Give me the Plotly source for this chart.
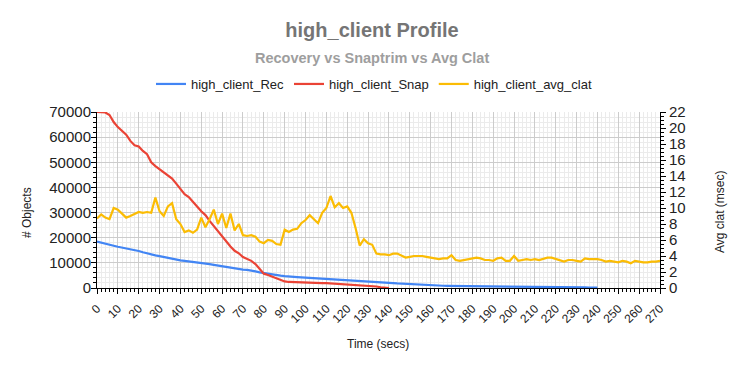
import plotly.graph_objects as go

# ---------------- data ----------------
time_step2 = list(range(0, 271, 2))

rec_values = [
    18500, 18000, 17700, 17300, 16800, 16400, 16100, 15700, 15400, 15000,
    14700, 14200, 13700, 13300, 13000, 12700, 12300, 11900, 11600, 11300,
    11000, 10800, 10600, 10400, 10200, 10100, 9800, 9500, 9200, 8900,
    8600, 8300, 8100, 7800, 7500, 7300, 7200, 7000, 6600, 6200,
    5900, 5600, 5300, 5100, 4900, 4700, 4500, 4400, 4300, 4200,
    4100, 4000, 3900, 3800, 3700, 3600, 3500, 3400, 3350, 3300,
    3200, 3100, 3000, 2950, 2900, 2700, 2550, 2400, 2300, 2200,
    2050, 1950, 1800, 1700, 1600, 1500, 1400, 1300, 1200, 1100,
    1050, 1000, 950, 900, 880, 850, 820, 800, 780, 750,
    700, 680, 650, 620, 580, 550, 500, 480, 450, 430,
    400, 380, 360, 350, 340, 330, 320, 310, 300, 290,
    280, 270, 260, 250, 240, 230, 220, 210, 200, 180,
    150,
]

snap_values = [
    70000, 70000, 69800, 68800, 66000, 64000, 62500, 61000, 58500, 56800,
    56300, 54500, 53200, 50000, 48500, 47300, 46000, 44600, 43500, 41500,
    39500, 37300, 36200, 34500, 32400, 30500, 29000, 26700, 24600, 22600,
    20800, 18600, 16500, 14800, 13800, 12300, 11400, 10800, 9500, 7800,
    5700, 5200, 4600, 3800, 3200, 2600, 2400, 2300, 2200, 2150,
    2100, 2050, 2000, 1950, 1900, 1900, 1800, 1600, 1400, 1300,
    1200, 1100, 1000, 900, 850, 800, 700, 600, 300, 50,
    0,
]

clat_values = [
    8.7, 9.2, 8.8, 8.6, 10.0, 9.8, 9.3, 8.8, 9.0, 9.3,
    9.5, 9.4, 9.5, 9.4, 11.3, 9.6, 9.0, 10.2, 10.6, 8.6,
    8.0, 7.0, 7.2, 6.9, 7.3, 8.8, 7.6, 8.6, 9.8, 8.0,
    9.3, 7.5, 9.3, 7.2, 8.0, 6.6, 6.5, 6.6, 6.4, 5.8,
    5.6, 6.0, 5.9, 5.5, 5.4, 7.3, 7.0, 7.3, 7.4, 8.1,
    8.5, 9.1, 8.6, 8.1, 9.4, 10.0, 11.5, 10.1, 10.6, 10.0,
    10.2, 9.4, 7.5, 5.3, 6.1, 5.6, 5.4, 4.3, 4.2, 4.2,
    4.1, 4.3, 4.3, 4.1, 3.8, 3.9, 4.0, 4.0, 4.0, 3.9,
    3.8, 3.7, 3.6, 3.7, 3.7, 4.1, 3.5, 3.4, 3.5, 3.6,
    3.7, 3.8, 3.7, 3.5, 3.5, 3.4, 3.7, 3.8, 3.4, 3.4,
    4.0, 3.4, 3.5, 3.6, 3.5, 3.6, 3.5, 3.7, 3.8, 3.8,
    3.6, 3.4, 3.3, 3.5, 3.5, 3.4, 3.3, 3.7, 3.6, 3.6,
    3.6, 3.5, 3.3, 3.4, 3.3, 3.2, 3.4, 3.3, 3.1, 3.4,
    3.3, 3.2, 3.2, 3.3, 3.3, 3.4,
]

rec_time = time_step2[:len(rec_values)]
snap_time = time_step2[:len(snap_values)]
clat_time = time_step2[:len(clat_values)]

series_names = ["high_client_Rec", "high_client_Snap", "high_client_avg_clat"]
series_colors = ["#4285F4", "#EA4335", "#FBBC04"]

X_RANGE = [0, 270]
Y_RANGE = [0, 70000]
Y2_RANGE = [0, 22]

# ---------------- figure geometry ----------------
# the page body has an 8px margin, so the figure is offset by 8px in the window
OFF = 8
VW, VH = 744, 371                    # window size
W, H = VW - 2 * OFF, VH - 2 * OFF    # figure size
PLOT_L, PLOT_R, PLOT_T, PLOT_B = 97, 660, 112, 288   # plot area in window px
L = PLOT_L - OFF
T = PLOT_T - OFF
R = W - (PLOT_R - OFF)
B = H - (PLOT_B - OFF)
PW, PH = W - L - R, H - T - B

FONT = "Liberation Sans, Arial, sans-serif"


def px_x(px):
    return (px - OFF - L) / PW


def px_y(py):
    return (PLOT_B - py) / PH


fig = go.Figure()
fig.add_trace(go.Scatter(x=rec_time, y=rec_values, name=series_names[0], mode="lines",
                         line=dict(color=series_colors[0], width=2.2)))
fig.add_trace(go.Scatter(x=snap_time, y=snap_values, name=series_names[1], mode="lines",
                         line=dict(color=series_colors[1], width=2.2)))
fig.add_trace(go.Scatter(x=clat_time, y=clat_values, name=series_names[2], mode="lines",
                         line=dict(color=series_colors[2], width=2.2), yaxis="y2"))

tick_in = dict(showticklabels=False, showgrid=False, zeroline=False, showline=False,
               ticks="inside", tickcolor="black", automargin=False)

fig.update_layout(
    width=W, height=H,
    margin=dict(l=L, r=R, t=T, b=B, autoexpand=False),
    paper_bgcolor="white", plot_bgcolor="white",
    font=dict(family=FONT, color="#222222"),
    title=dict(text="<b>high_client Profile</b>", x=px_x(372), xanchor="center",
               xref="paper", y=1 - (30 - OFF) / H, yanchor="middle",
               font=dict(size=20, color="#757575", family=FONT)),
    showlegend=True,
    legend=dict(orientation="h", x=px_x(374), xanchor="center", y=px_y(84), yanchor="middle",
                font=dict(size=13, color="#222222"), itemwidth=30),
    xaxis=dict(range=X_RANGE, tickmode="linear", tick0=0, dtick=10, tickangle=-45,
               ticks="outside", ticklen=5, tickcolor="black", showline=True,
               linecolor="black", linewidth=1, showgrid=True, gridcolor="#cccccc",
               zeroline=False, tickfont=dict(size=12, color="#222222"), automargin=False,
               ticklabelstandoff=3,
               minor=dict(dtick=2, showgrid=True, gridcolor="#ebebeb", ticks="outside",
                          ticklen=3, tickcolor="black")),
    yaxis=dict(range=Y_RANGE, tickmode="linear", tick0=0, dtick=10000, tickformat="d",
               ticks="outside", ticklen=5, tickcolor="black", showline=True,
               linecolor="black", linewidth=1, showgrid=True, gridcolor="#cccccc",
               zeroline=False, tickfont=dict(size=15, color="#222222"), automargin=False,
               ticklabelstandoff=-3,
               minor=dict(dtick=2000, showgrid=True, gridcolor="#ebebeb", ticks="outside",
                          ticklen=3, tickcolor="black")),
    yaxis2=dict(range=Y2_RANGE, overlaying="y", side="right", tickmode="linear", tick0=0,
                dtick=2, ticks="outside", ticklen=5, tickcolor="black", showline=True,
                linecolor="black", linewidth=1, showgrid=False, zeroline=False,
                tickfont=dict(size=15, color="#222222"), automargin=False,
                minor=dict(dtick=0.5, showgrid=False, ticks="outside", ticklen=3,
                           tickcolor="black")),
    # companion axes: the inner half of tick marks that cross the axis lines
    xaxis2=dict(overlaying="x", side="bottom", range=X_RANGE, tickmode="linear", tick0=0,
                dtick=10, ticklen=3, minor=dict(dtick=2, ticks="inside", ticklen=2,
                                                tickcolor="black"), **tick_in),
    yaxis3=dict(overlaying="y", side="left", range=Y_RANGE, tickmode="linear", tick0=0,
                dtick=10000, ticklen=3, minor=dict(dtick=2000, ticks="inside", ticklen=2,
                                                   tickcolor="black"), **tick_in),
    yaxis4=dict(overlaying="y", side="right", range=Y2_RANGE, tickmode="linear", tick0=0,
                dtick=2, ticklen=3, minor=dict(dtick=0.5, ticks="inside", ticklen=2,
                                               tickcolor="black"), **tick_in),
)

annotations = [
    dict(text="<b>Recovery vs Snaptrim vs Avg Clat</b>", xref="paper", yref="paper",
         x=px_x(372), y=px_y(58), xanchor="center", yanchor="middle", showarrow=False,
         font=dict(size=14.5, color="#9e9e9e")),
    dict(text="# Objects", xref="paper", yref="paper", x=px_x(27), y=px_y(213),
         xanchor="center", yanchor="middle", textangle=-90, showarrow=False,
         font=dict(size=12, color="#222222")),
    dict(text="Avg clat (msec)", xref="paper", yref="paper", x=px_x(720), y=px_y(212),
         xanchor="center", yanchor="middle", textangle=-90, showarrow=False,
         font=dict(size=12, color="#222222")),
    dict(text="Time (secs)", xref="paper", yref="paper", x=px_x(378), y=px_y(344),
         xanchor="center", yanchor="middle", showarrow=False,
         font=dict(size=12, color="#222222")),
]
fig.update_layout(annotations=annotations)

fig.write_html("out.html")
